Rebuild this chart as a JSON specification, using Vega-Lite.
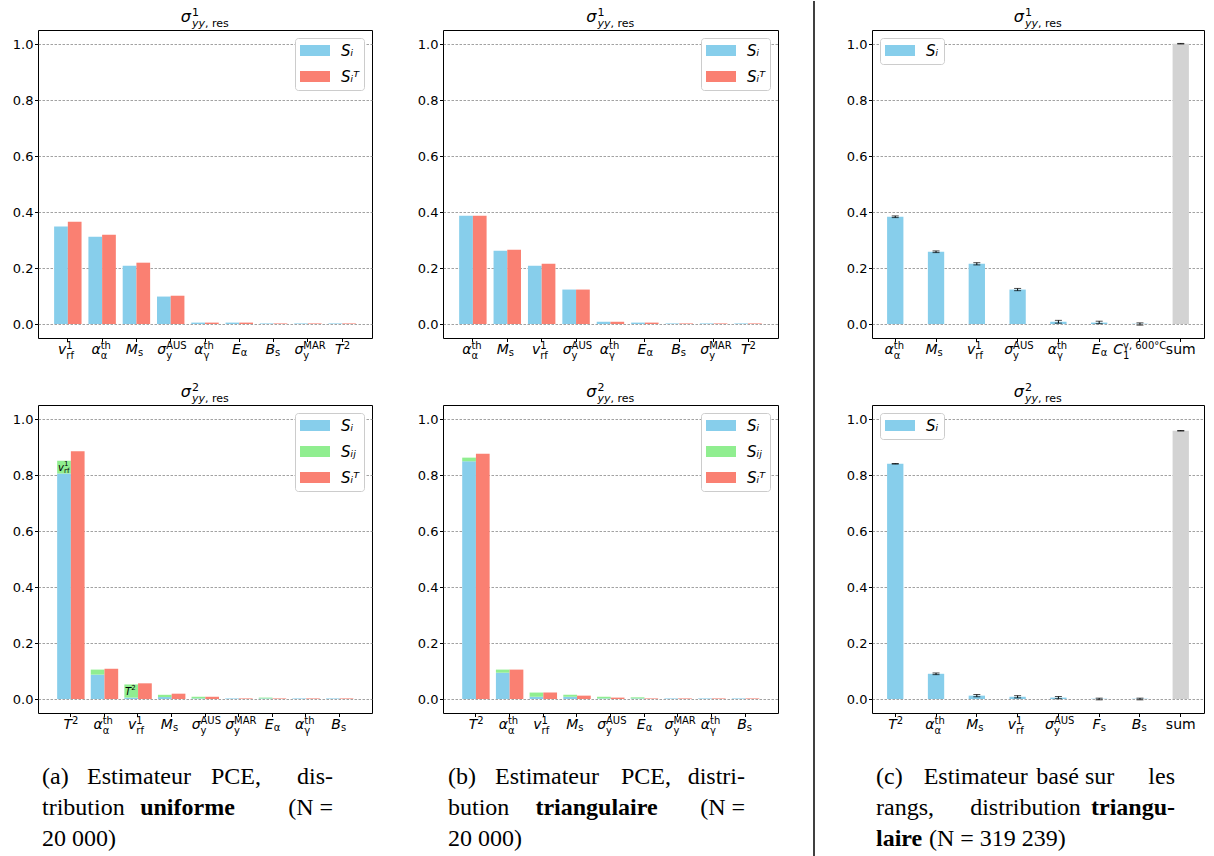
{
  "$schema": "https://vega.github.io/schema/vega-lite/v6.json",
  "background": "white",
  "padding": {"left": 11, "top": 0, "right": 0, "bottom": 0},
  "spacing": 28,
  "resolve": {"scale": {"color": "independent"}, "legend": {"color": "independent"}},
  "datasets": {
    "labels": [
      {"name": "vrf", "base": "v", "sup": "1", "sub": "rf", "plain": ""},
      {"name": "aa", "base": "α", "sup": "th", "sub": "α", "plain": ""},
      {"name": "Ms", "base": "M", "sup": "", "sub": "s", "plain": ""},
      {"name": "sAUS", "base": "σ", "sup": "AUS", "sub": "y", "plain": ""},
      {"name": "ag", "base": "α", "sup": "th", "sub": "γ", "plain": ""},
      {"name": "Ea", "base": "E", "sup": "", "sub": "α", "plain": ""},
      {"name": "Bs", "base": "B", "sup": "", "sub": "s", "plain": ""},
      {"name": "sMAR", "base": "σ", "sup": "MAR", "sub": "y", "plain": ""},
      {"name": "T2", "base": "T", "sup": "2", "sub": "", "plain": ""},
      {"name": "C1", "base": "C", "sup": "γ, 600°C", "sub": "1", "plain": ""},
      {"name": "Fs", "base": "F", "sup": "", "sub": "s", "plain": ""},
      {"name": "sum", "base": "", "sup": "", "sub": "", "plain": "sum"}
    ]
  },
  "hconcat": [
    {
      "vconcat": [
        {
          "width": 334, "height": 308,
          "layer": [
            {
              "data": {"values": [
                {"name": "vrf", "series": "Sᵢ", "v": 0.348}, {"name": "vrf", "series": "Sᵢᵀ", "v": 0.365},
                {"name": "aa", "series": "Sᵢ", "v": 0.312}, {"name": "aa", "series": "Sᵢᵀ", "v": 0.319},
                {"name": "Ms", "series": "Sᵢ", "v": 0.208}, {"name": "Ms", "series": "Sᵢᵀ", "v": 0.219},
                {"name": "sAUS", "series": "Sᵢ", "v": 0.098}, {"name": "sAUS", "series": "Sᵢᵀ", "v": 0.101},
                {"name": "ag", "series": "Sᵢ", "v": 0.005}, {"name": "ag", "series": "Sᵢᵀ", "v": 0.005},
                {"name": "Ea", "series": "Sᵢ", "v": 0.005}, {"name": "Ea", "series": "Sᵢᵀ", "v": 0.005},
                {"name": "Bs", "series": "Sᵢ", "v": 0.002}, {"name": "Bs", "series": "Sᵢᵀ", "v": 0.002},
                {"name": "sMAR", "series": "Sᵢ", "v": 0.002}, {"name": "sMAR", "series": "Sᵢᵀ", "v": 0.002},
                {"name": "T2", "series": "Sᵢ", "v": 0.002}, {"name": "T2", "series": "Sᵢᵀ", "v": 0.002}
              ]},
              "transform": [{"calculate": "datum.series === 'Sᵢᵀ' ? 'b' : 'a'", "as": "grp"}],
              "mark": {"type": "bar"},
              "encoding": {
                "x": {"field": "name", "type": "nominal", "scale": {"domain": ["vrf", "aa", "Ms", "sAUS", "ag", "Ea", "Bs", "sMAR", "T2"], "paddingInner": 0.2, "paddingOuter": 0.47}},
                "xOffset": {"field": "grp", "type": "nominal", "scale": {"domain": ["a", "b"], "paddingInner": 0, "paddingOuter": 0}},
                "y": {"field": "v", "type": "quantitative", "scale": {"domain": [-0.05, 1.05], "nice": false, "zero": false}, "axis": {"values": [0, 0.2, 0.4, 0.6, 0.8, 1], "format": ".1f"}},
                "color": {"field": "series", "type": "nominal", "scale": {"domain": ["Sᵢ", "Sᵢᵀ"], "range": ["#87ceeb", "#fa8072"]}, "legend": {"title": null, "orient": "top-right", "symbolType": "M-1,-0.733H3V0.733H-1Z", "symbolSize": 225}}
              }
            },
            {"data": {"values": [{}]}, "mark": {"type": "text", "text": "σ", "align": "right", "baseline": "alphabetic", "dx": -14, "dy": -8, "fontSize": 16, "fontStyle": "italic", "color": "black"}, "encoding": {"y": {"datum": 1.05}}},
            {"data": {"values": [{}]}, "mark": {"type": "text", "text": "1", "align": "left", "baseline": "alphabetic", "dx": -13, "dy": -14, "fontSize": 11, "color": "black"}, "encoding": {"y": {"datum": 1.05}}},
            {"data": {"values": [{}]}, "mark": {"type": "text", "text": "yy", "align": "left", "baseline": "alphabetic", "dx": -13, "dy": -3, "fontSize": 11, "fontStyle": "italic", "color": "black"}, "encoding": {"y": {"datum": 1.05}}},
            {"data": {"values": [{}]}, "mark": {"type": "text", "text": ", res", "align": "left", "baseline": "alphabetic", "dx": 0, "dy": -3, "fontSize": 11, "color": "black"}, "encoding": {"y": {"datum": 1.05}}},
            {"data": {"name": "labels"}, "transform": [{"filter": {"field": "name", "oneOf": ["vrf", "aa", "Ms", "sAUS", "ag", "Ea", "Bs", "sMAR", "T2"]}}], "mark": {"type": "text", "align": "right", "baseline": "alphabetic", "dy": 16, "fontSize": 14, "fontStyle": "italic", "color": "black", "dx": {"expr": "max(-17,(9-6*max(length(datum.sup),length(datum.sub)))/2)"}}, "encoding": {"x": {"field": "name", "type": "nominal"}, "y": {"datum": -0.05}, "text": {"field": "base"}}},
            {"data": {"name": "labels"}, "transform": [{"filter": {"field": "name", "oneOf": ["vrf", "aa", "Ms", "sAUS", "ag", "Ea", "Bs", "sMAR", "T2"]}}], "mark": {"type": "text", "align": "left", "baseline": "alphabetic", "dy": 11, "fontSize": 10, "color": "black", "dx": {"expr": "max(-17,(9-6*max(length(datum.sup),length(datum.sub)))/2)"}}, "encoding": {"x": {"field": "name", "type": "nominal"}, "y": {"datum": -0.05}, "text": {"field": "sup"}}},
            {"data": {"name": "labels"}, "transform": [{"filter": {"field": "name", "oneOf": ["vrf", "aa", "Ms", "sAUS", "ag", "Ea", "Bs", "sMAR", "T2"]}}], "mark": {"type": "text", "align": "left", "baseline": "alphabetic", "dy": {"expr": "datum.sup ? 21 : 18"}, "fontSize": 10, "color": "black", "dx": {"expr": "max(-17,(9-6*max(length(datum.sup),length(datum.sub)))/2)"}}, "encoding": {"x": {"field": "name", "type": "nominal"}, "y": {"datum": -0.05}, "text": {"field": "sub"}}}
          ]
        },
        {
          "width": 334, "height": 308,
          "layer": [
            {
              "data": {"values": [
                {"name": "T2", "series": "Sᵢ", "v": 0.805}, {"name": "T2", "series": "Sᵢⱼ", "v": 0.046}, {"name": "T2", "series": "Sᵢᵀ", "v": 0.885},
                {"name": "aa", "series": "Sᵢ", "v": 0.087}, {"name": "aa", "series": "Sᵢⱼ", "v": 0.018}, {"name": "aa", "series": "Sᵢᵀ", "v": 0.108},
                {"name": "vrf", "series": "Sᵢ", "v": 0.005}, {"name": "vrf", "series": "Sᵢⱼ", "v": 0.047}, {"name": "vrf", "series": "Sᵢᵀ", "v": 0.056},
                {"name": "Ms", "series": "Sᵢ", "v": 0.007}, {"name": "Ms", "series": "Sᵢⱼ", "v": 0.008}, {"name": "Ms", "series": "Sᵢᵀ", "v": 0.019},
                {"name": "sAUS", "series": "Sᵢ", "v": 0.002}, {"name": "sAUS", "series": "Sᵢⱼ", "v": 0.006}, {"name": "sAUS", "series": "Sᵢᵀ", "v": 0.008},
                {"name": "sMAR", "series": "Sᵢ", "v": 0.002}, {"name": "sMAR", "series": "Sᵢᵀ", "v": 0.002},
                {"name": "Ea", "series": "Sᵢ", "v": 0.002}, {"name": "Ea", "series": "Sᵢⱼ", "v": 0.003}, {"name": "Ea", "series": "Sᵢᵀ", "v": 0.002},
                {"name": "ag", "series": "Sᵢ", "v": 0.002}, {"name": "ag", "series": "Sᵢᵀ", "v": 0.002},
                {"name": "Bs", "series": "Sᵢ", "v": 0.002}, {"name": "Bs", "series": "Sᵢᵀ", "v": 0.002}
              ]},
              "transform": [
                {"calculate": "datum.series === 'Sᵢᵀ' ? 'b' : 'a'", "as": "grp"},
                {"calculate": "datum.series === 'Sᵢ' ? 0 : (datum.series === 'Sᵢⱼ' ? 1 : 2)", "as": "ord"}
              ],
              "mark": {"type": "bar"},
              "encoding": {
                "x": {"field": "name", "type": "nominal", "scale": {"domain": ["T2", "aa", "vrf", "Ms", "sAUS", "sMAR", "Ea", "ag", "Bs"], "paddingInner": 0.2, "paddingOuter": 0.57}},
                "xOffset": {"field": "grp", "type": "nominal", "scale": {"domain": ["a", "b"], "paddingInner": 0, "paddingOuter": 0}},
                "y": {"field": "v", "type": "quantitative", "scale": {"domain": [-0.05, 1.05], "nice": false, "zero": false}, "axis": {"values": [0, 0.2, 0.4, 0.6, 0.8, 1], "format": ".1f"}},
                "order": {"field": "ord", "type": "quantitative"},
                "color": {"field": "series", "type": "nominal", "scale": {"domain": ["Sᵢ", "Sᵢⱼ", "Sᵢᵀ"], "range": ["#87ceeb", "#90ee90", "#fa8072"]}, "legend": {"title": null, "orient": "top-right", "symbolType": "M-1,-0.733H3V0.733H-1Z", "symbolSize": 225}}
              }
            },
            {"data": {"values": [{"name": "T2", "v": 0.805, "ab": "v", "asup": "1", "asub": "rf"}, {"name": "vrf", "v": 0.005, "ab": "T", "asup": "2", "asub": ""}]}, "transform": [{"calculate": "'a'", "as": "grp"}], "mark": {"type": "text", "align": "right", "baseline": "alphabetic", "dy": -3, "fontSize": 10, "fontStyle": "italic", "color": "black"}, "encoding": {"x": {"field": "name", "type": "nominal"}, "xOffset": {"field": "grp", "type": "nominal"}, "y": {"field": "v", "type": "quantitative"}, "text": {"field": "ab"}}},
            {"data": {"values": [{"name": "T2", "v": 0.805, "ab": "v", "asup": "1", "asub": "rf"}, {"name": "vrf", "v": 0.005, "ab": "T", "asup": "2", "asub": ""}]}, "transform": [{"calculate": "'a'", "as": "grp"}], "mark": {"type": "text", "align": "left", "baseline": "alphabetic", "dy": -8, "fontSize": 7, "color": "black"}, "encoding": {"x": {"field": "name", "type": "nominal"}, "xOffset": {"field": "grp", "type": "nominal"}, "y": {"field": "v", "type": "quantitative"}, "text": {"field": "asup"}}},
            {"data": {"values": [{"name": "T2", "v": 0.805, "ab": "v", "asup": "1", "asub": "rf"}, {"name": "vrf", "v": 0.005, "ab": "T", "asup": "2", "asub": ""}]}, "transform": [{"calculate": "'a'", "as": "grp"}], "mark": {"type": "text", "align": "left", "baseline": "alphabetic", "dy": -1, "fontSize": 7, "color": "black"}, "encoding": {"x": {"field": "name", "type": "nominal"}, "xOffset": {"field": "grp", "type": "nominal"}, "y": {"field": "v", "type": "quantitative"}, "text": {"field": "asub"}}},
            {"data": {"values": [{}]}, "mark": {"type": "text", "text": "σ", "align": "right", "baseline": "alphabetic", "dx": -14, "dy": -8, "fontSize": 16, "fontStyle": "italic", "color": "black"}, "encoding": {"y": {"datum": 1.05}}},
            {"data": {"values": [{}]}, "mark": {"type": "text", "text": "2", "align": "left", "baseline": "alphabetic", "dx": -13, "dy": -14, "fontSize": 11, "color": "black"}, "encoding": {"y": {"datum": 1.05}}},
            {"data": {"values": [{}]}, "mark": {"type": "text", "text": "yy", "align": "left", "baseline": "alphabetic", "dx": -13, "dy": -3, "fontSize": 11, "fontStyle": "italic", "color": "black"}, "encoding": {"y": {"datum": 1.05}}},
            {"data": {"values": [{}]}, "mark": {"type": "text", "text": ", res", "align": "left", "baseline": "alphabetic", "dx": 0, "dy": -3, "fontSize": 11, "color": "black"}, "encoding": {"y": {"datum": 1.05}}},
            {"data": {"name": "labels"}, "transform": [{"filter": {"field": "name", "oneOf": ["T2", "aa", "vrf", "Ms", "sAUS", "sMAR", "Ea", "ag", "Bs"]}}], "mark": {"type": "text", "align": "right", "baseline": "alphabetic", "dy": 16, "fontSize": 14, "fontStyle": "italic", "color": "black", "dx": {"expr": "max(-17,(9-6*max(length(datum.sup),length(datum.sub)))/2)"}}, "encoding": {"x": {"field": "name", "type": "nominal"}, "y": {"datum": -0.05}, "text": {"field": "base"}}},
            {"data": {"name": "labels"}, "transform": [{"filter": {"field": "name", "oneOf": ["T2", "aa", "vrf", "Ms", "sAUS", "sMAR", "Ea", "ag", "Bs"]}}], "mark": {"type": "text", "align": "left", "baseline": "alphabetic", "dy": 11, "fontSize": 10, "color": "black", "dx": {"expr": "max(-17,(9-6*max(length(datum.sup),length(datum.sub)))/2)"}}, "encoding": {"x": {"field": "name", "type": "nominal"}, "y": {"datum": -0.05}, "text": {"field": "sup"}}},
            {"data": {"name": "labels"}, "transform": [{"filter": {"field": "name", "oneOf": ["T2", "aa", "vrf", "Ms", "sAUS", "sMAR", "Ea", "ag", "Bs"]}}], "mark": {"type": "text", "align": "left", "baseline": "alphabetic", "dy": {"expr": "datum.sup ? 21 : 18"}, "fontSize": 10, "color": "black", "dx": {"expr": "max(-17,(9-6*max(length(datum.sup),length(datum.sub)))/2)"}}, "encoding": {"x": {"field": "name", "type": "nominal"}, "y": {"datum": -0.05}, "text": {"field": "sub"}}}
          ]
        },
        {
          "width": 350, "height": 70,
          "view": {"stroke": null},
          "data": {"values": [
            {"line": 1, "seg": 1, "text": "(a)"}, {"line": 1, "seg": 2, "text": "Estimateur"}, {"line": 1, "seg": 3, "text": "PCE,"}, {"line": 1, "seg": 4, "text": "dis-"},
            {"line": 2, "seg": 1, "text": "tribution"}, {"line": 2, "seg": 2, "text": "uniforme"}, {"line": 2, "seg": 3, "text": "(N ="},
            {"line": 3, "seg": 1, "text": "20 000)"}
          ]},
          "transform": [
            {"joinaggregate": [{"op": "max", "field": "seg", "as": "nseg"}], "groupby": ["line"]},
            {"joinaggregate": [{"op": "max", "field": "line", "as": "nline"}]},
            {"calculate": "datum.seg === 1 || datum.line === datum.nline ? 0 : (datum.seg === datum.nseg ? 1 : (datum.seg - 1) / (datum.nseg - 1))", "as": "f"}
          ],
          "mark": {"type": "text", "baseline": "alphabetic", "font": "Liberation Serif", "fontSize": 24, "color": "black",
            "dx": {"expr": "datum.line === datum.nline && datum.seg > 1 ? 53 : 0"},
            "align": {"expr": "datum.seg === 1 || datum.line === datum.nline ? 'left' : (datum.seg === datum.nseg ? 'right' : 'center')"},
            "fontWeight": {"expr": "indexof(['uniforme','triangulaire','triangu-','laire'], datum.text) >= 0 ? 'bold' : 'normal'"}},
          "encoding": {
            "x": {"field": "f", "type": "quantitative", "scale": {"domain": [-0.01375, 1.189], "nice": false, "zero": false}, "axis": null},
            "y": {"field": "line", "type": "ordinal", "scale": {"type": "point", "domain": [1, 2, 3], "padding": 0.136}, "axis": null},
            "text": {"field": "text"}
          }
        }
      ],
      "spacing": 67,
      "bounds": "flush",
      "resolve": {"scale": {"color": "independent"}, "legend": {"color": "independent"}}
    },
    {
      "vconcat": [
        {
          "width": 335, "height": 308,
          "layer": [
            {
              "data": {"values": [
                {"name": "aa", "series": "Sᵢ", "v": 0.387}, {"name": "aa", "series": "Sᵢᵀ", "v": 0.387},
                {"name": "Ms", "series": "Sᵢ", "v": 0.262}, {"name": "Ms", "series": "Sᵢᵀ", "v": 0.265},
                {"name": "vrf", "series": "Sᵢ", "v": 0.208}, {"name": "vrf", "series": "Sᵢᵀ", "v": 0.215},
                {"name": "sAUS", "series": "Sᵢ", "v": 0.123}, {"name": "sAUS", "series": "Sᵢᵀ", "v": 0.123},
                {"name": "ag", "series": "Sᵢ", "v": 0.008}, {"name": "ag", "series": "Sᵢᵀ", "v": 0.008},
                {"name": "Ea", "series": "Sᵢ", "v": 0.005}, {"name": "Ea", "series": "Sᵢᵀ", "v": 0.005},
                {"name": "Bs", "series": "Sᵢ", "v": 0.002}, {"name": "Bs", "series": "Sᵢᵀ", "v": 0.002},
                {"name": "sMAR", "series": "Sᵢ", "v": 0.002}, {"name": "sMAR", "series": "Sᵢᵀ", "v": 0.002},
                {"name": "T2", "series": "Sᵢ", "v": 0.002}, {"name": "T2", "series": "Sᵢᵀ", "v": 0.002}
              ]},
              "transform": [{"calculate": "datum.series === 'Sᵢᵀ' ? 'b' : 'a'", "as": "grp"}],
              "mark": {"type": "bar"},
              "encoding": {
                "x": {"field": "name", "type": "nominal", "scale": {"domain": ["aa", "Ms", "vrf", "sAUS", "ag", "Ea", "Bs", "sMAR", "T2"], "paddingInner": 0.2, "paddingOuter": 0.47}},
                "xOffset": {"field": "grp", "type": "nominal", "scale": {"domain": ["a", "b"], "paddingInner": 0, "paddingOuter": 0}},
                "y": {"field": "v", "type": "quantitative", "scale": {"domain": [-0.05, 1.05], "nice": false, "zero": false}, "axis": {"values": [0, 0.2, 0.4, 0.6, 0.8, 1], "format": ".1f"}},
                "color": {"field": "series", "type": "nominal", "scale": {"domain": ["Sᵢ", "Sᵢᵀ"], "range": ["#87ceeb", "#fa8072"]}, "legend": {"title": null, "orient": "top-right", "symbolType": "M-1,-0.733H3V0.733H-1Z", "symbolSize": 225}}
              }
            },
            {"data": {"values": [{}]}, "mark": {"type": "text", "text": "σ", "align": "right", "baseline": "alphabetic", "dx": -14, "dy": -8, "fontSize": 16, "fontStyle": "italic", "color": "black"}, "encoding": {"y": {"datum": 1.05}}},
            {"data": {"values": [{}]}, "mark": {"type": "text", "text": "1", "align": "left", "baseline": "alphabetic", "dx": -13, "dy": -14, "fontSize": 11, "color": "black"}, "encoding": {"y": {"datum": 1.05}}},
            {"data": {"values": [{}]}, "mark": {"type": "text", "text": "yy", "align": "left", "baseline": "alphabetic", "dx": -13, "dy": -3, "fontSize": 11, "fontStyle": "italic", "color": "black"}, "encoding": {"y": {"datum": 1.05}}},
            {"data": {"values": [{}]}, "mark": {"type": "text", "text": ", res", "align": "left", "baseline": "alphabetic", "dx": 0, "dy": -3, "fontSize": 11, "color": "black"}, "encoding": {"y": {"datum": 1.05}}},
            {"data": {"name": "labels"}, "transform": [{"filter": {"field": "name", "oneOf": ["aa", "Ms", "vrf", "sAUS", "ag", "Ea", "Bs", "sMAR", "T2"]}}], "mark": {"type": "text", "align": "right", "baseline": "alphabetic", "dy": 16, "fontSize": 14, "fontStyle": "italic", "color": "black", "dx": {"expr": "max(-17,(9-6*max(length(datum.sup),length(datum.sub)))/2)"}}, "encoding": {"x": {"field": "name", "type": "nominal"}, "y": {"datum": -0.05}, "text": {"field": "base"}}},
            {"data": {"name": "labels"}, "transform": [{"filter": {"field": "name", "oneOf": ["aa", "Ms", "vrf", "sAUS", "ag", "Ea", "Bs", "sMAR", "T2"]}}], "mark": {"type": "text", "align": "left", "baseline": "alphabetic", "dy": 11, "fontSize": 10, "color": "black", "dx": {"expr": "max(-17,(9-6*max(length(datum.sup),length(datum.sub)))/2)"}}, "encoding": {"x": {"field": "name", "type": "nominal"}, "y": {"datum": -0.05}, "text": {"field": "sup"}}},
            {"data": {"name": "labels"}, "transform": [{"filter": {"field": "name", "oneOf": ["aa", "Ms", "vrf", "sAUS", "ag", "Ea", "Bs", "sMAR", "T2"]}}], "mark": {"type": "text", "align": "left", "baseline": "alphabetic", "dy": {"expr": "datum.sup ? 21 : 18"}, "fontSize": 10, "color": "black", "dx": {"expr": "max(-17,(9-6*max(length(datum.sup),length(datum.sub)))/2)"}}, "encoding": {"x": {"field": "name", "type": "nominal"}, "y": {"datum": -0.05}, "text": {"field": "sub"}}}
          ]
        },
        {
          "width": 335, "height": 308,
          "layer": [
            {
              "data": {"values": [
                {"name": "T2", "series": "Sᵢ", "v": 0.849}, {"name": "T2", "series": "Sᵢⱼ", "v": 0.013}, {"name": "T2", "series": "Sᵢᵀ", "v": 0.876},
                {"name": "aa", "series": "Sᵢ", "v": 0.094}, {"name": "aa", "series": "Sᵢⱼ", "v": 0.011}, {"name": "aa", "series": "Sᵢᵀ", "v": 0.105},
                {"name": "vrf", "series": "Sᵢ", "v": 0.008}, {"name": "vrf", "series": "Sᵢⱼ", "v": 0.015}, {"name": "vrf", "series": "Sᵢᵀ", "v": 0.023},
                {"name": "Ms", "series": "Sᵢ", "v": 0.008}, {"name": "Ms", "series": "Sᵢⱼ", "v": 0.007}, {"name": "Ms", "series": "Sᵢᵀ", "v": 0.012},
                {"name": "sAUS", "series": "Sᵢ", "v": 0.002}, {"name": "sAUS", "series": "Sᵢⱼ", "v": 0.006}, {"name": "sAUS", "series": "Sᵢᵀ", "v": 0.005},
                {"name": "Ea", "series": "Sᵢ", "v": 0.002}, {"name": "Ea", "series": "Sᵢⱼ", "v": 0.004}, {"name": "Ea", "series": "Sᵢᵀ", "v": 0.002},
                {"name": "sMAR", "series": "Sᵢ", "v": 0.002}, {"name": "sMAR", "series": "Sᵢᵀ", "v": 0.002},
                {"name": "ag", "series": "Sᵢ", "v": 0.002}, {"name": "ag", "series": "Sᵢᵀ", "v": 0.002},
                {"name": "Bs", "series": "Sᵢ", "v": 0.002}, {"name": "Bs", "series": "Sᵢᵀ", "v": 0.002}
              ]},
              "transform": [
                {"calculate": "datum.series === 'Sᵢᵀ' ? 'b' : 'a'", "as": "grp"},
                {"calculate": "datum.series === 'Sᵢ' ? 0 : (datum.series === 'Sᵢⱼ' ? 1 : 2)", "as": "ord"}
              ],
              "mark": {"type": "bar"},
              "encoding": {
                "x": {"field": "name", "type": "nominal", "scale": {"domain": ["T2", "aa", "vrf", "Ms", "sAUS", "Ea", "sMAR", "ag", "Bs"], "paddingInner": 0.2, "paddingOuter": 0.57}},
                "xOffset": {"field": "grp", "type": "nominal", "scale": {"domain": ["a", "b"], "paddingInner": 0, "paddingOuter": 0}},
                "y": {"field": "v", "type": "quantitative", "scale": {"domain": [-0.05, 1.05], "nice": false, "zero": false}, "axis": {"values": [0, 0.2, 0.4, 0.6, 0.8, 1], "format": ".1f"}},
                "order": {"field": "ord", "type": "quantitative"},
                "color": {"field": "series", "type": "nominal", "scale": {"domain": ["Sᵢ", "Sᵢⱼ", "Sᵢᵀ"], "range": ["#87ceeb", "#90ee90", "#fa8072"]}, "legend": {"title": null, "orient": "top-right", "symbolType": "M-1,-0.733H3V0.733H-1Z", "symbolSize": 225}}
              }
            },
            {"data": {"values": [{}]}, "mark": {"type": "text", "text": "σ", "align": "right", "baseline": "alphabetic", "dx": -14, "dy": -8, "fontSize": 16, "fontStyle": "italic", "color": "black"}, "encoding": {"y": {"datum": 1.05}}},
            {"data": {"values": [{}]}, "mark": {"type": "text", "text": "2", "align": "left", "baseline": "alphabetic", "dx": -13, "dy": -14, "fontSize": 11, "color": "black"}, "encoding": {"y": {"datum": 1.05}}},
            {"data": {"values": [{}]}, "mark": {"type": "text", "text": "yy", "align": "left", "baseline": "alphabetic", "dx": -13, "dy": -3, "fontSize": 11, "fontStyle": "italic", "color": "black"}, "encoding": {"y": {"datum": 1.05}}},
            {"data": {"values": [{}]}, "mark": {"type": "text", "text": ", res", "align": "left", "baseline": "alphabetic", "dx": 0, "dy": -3, "fontSize": 11, "color": "black"}, "encoding": {"y": {"datum": 1.05}}},
            {"data": {"name": "labels"}, "transform": [{"filter": {"field": "name", "oneOf": ["T2", "aa", "vrf", "Ms", "sAUS", "Ea", "sMAR", "ag", "Bs"]}}], "mark": {"type": "text", "align": "right", "baseline": "alphabetic", "dy": 16, "fontSize": 14, "fontStyle": "italic", "color": "black", "dx": {"expr": "max(-17,(9-6*max(length(datum.sup),length(datum.sub)))/2)"}}, "encoding": {"x": {"field": "name", "type": "nominal"}, "y": {"datum": -0.05}, "text": {"field": "base"}}},
            {"data": {"name": "labels"}, "transform": [{"filter": {"field": "name", "oneOf": ["T2", "aa", "vrf", "Ms", "sAUS", "Ea", "sMAR", "ag", "Bs"]}}], "mark": {"type": "text", "align": "left", "baseline": "alphabetic", "dy": 11, "fontSize": 10, "color": "black", "dx": {"expr": "max(-17,(9-6*max(length(datum.sup),length(datum.sub)))/2)"}}, "encoding": {"x": {"field": "name", "type": "nominal"}, "y": {"datum": -0.05}, "text": {"field": "sup"}}},
            {"data": {"name": "labels"}, "transform": [{"filter": {"field": "name", "oneOf": ["T2", "aa", "vrf", "Ms", "sAUS", "Ea", "sMAR", "ag", "Bs"]}}], "mark": {"type": "text", "align": "left", "baseline": "alphabetic", "dy": {"expr": "datum.sup ? 21 : 18"}, "fontSize": 10, "color": "black", "dx": {"expr": "max(-17,(9-6*max(length(datum.sup),length(datum.sub)))/2)"}}, "encoding": {"x": {"field": "name", "type": "nominal"}, "y": {"datum": -0.05}, "text": {"field": "sub"}}}
          ]
        },
        {
          "width": 342, "height": 70,
          "view": {"stroke": null},
          "data": {"values": [
            {"line": 1, "seg": 1, "text": "(b)"}, {"line": 1, "seg": 2, "text": "Estimateur"}, {"line": 1, "seg": 3, "text": "PCE,"}, {"line": 1, "seg": 4, "text": "distri-"},
            {"line": 2, "seg": 1, "text": "bution"}, {"line": 2, "seg": 2, "text": "triangulaire"}, {"line": 2, "seg": 3, "text": "(N ="},
            {"line": 3, "seg": 1, "text": "20 000)"}
          ]},
          "transform": [
            {"joinaggregate": [{"op": "max", "field": "seg", "as": "nseg"}], "groupby": ["line"]},
            {"joinaggregate": [{"op": "max", "field": "line", "as": "nline"}]},
            {"calculate": "datum.seg === 1 || datum.line === datum.nline ? 0 : (datum.seg === datum.nseg ? 1 : (datum.seg - 1) / (datum.nseg - 1))", "as": "f"}
          ],
          "mark": {"type": "text", "baseline": "alphabetic", "font": "Liberation Serif", "fontSize": 24, "color": "black",
            "dx": {"expr": "datum.line === datum.nline && datum.seg > 1 ? 53 : 0"},
            "align": {"expr": "datum.seg === 1 || datum.line === datum.nline ? 'left' : (datum.seg === datum.nseg ? 'right' : 'center')"},
            "fontWeight": {"expr": "indexof(['uniforme','triangulaire','triangu-','laire'], datum.text) >= 0 ? 'bold' : 'normal'"}},
          "encoding": {
            "x": {"field": "f", "type": "quantitative", "scale": {"domain": [-0.01683, 1.1347], "nice": false, "zero": false}, "axis": null},
            "y": {"field": "line", "type": "ordinal", "scale": {"type": "point", "domain": [1, 2, 3], "padding": 0.136}, "axis": null},
            "text": {"field": "text"}
          }
        }
      ],
      "spacing": 67,
      "bounds": "flush",
      "resolve": {"scale": {"color": "independent"}, "legend": {"color": "independent"}}
    },
    {
      "width": 3, "height": 827,
      "view": {"stroke": null},
      "data": {"values": [{"at": 0}]},
      "mark": {"type": "rule", "color": "black", "strokeWidth": 1.5},
      "encoding": {
        "x": {"field": "at", "type": "quantitative", "scale": {"domain": [0, 1]}, "axis": null},
        "y": {"datum": 0, "type": "quantitative", "scale": {"domain": [0, 1], "nice": false}, "axis": null},
        "y2": {"datum": 1.035}
      }
    },
    {
      "vconcat": [
        {
          "width": 332, "height": 308,
          "data": {"values": [
            {"name": "aa", "series": "Sᵢ", "v": 0.383, "lo": 0.380, "hi": 0.386},
            {"name": "Ms", "series": "Sᵢ", "v": 0.258, "lo": 0.255, "hi": 0.261},
            {"name": "vrf", "series": "Sᵢ", "v": 0.215, "lo": 0.211, "hi": 0.219},
            {"name": "sAUS", "series": "Sᵢ", "v": 0.123, "lo": 0.119, "hi": 0.127},
            {"name": "ag", "series": "Sᵢ", "v": 0.008, "lo": 0.003, "hi": 0.013},
            {"name": "Ea", "series": "Sᵢ", "v": 0.005, "lo": 0.001, "hi": 0.010},
            {"name": "C1", "series": "Sᵢ", "v": 0.001, "lo": -0.004, "hi": 0.004},
            {"name": "sum", "series": "sum", "v": 1.001, "lo": 1.000, "hi": 1.002}
          ]},
          "layer": [
            {
              "transform": [{"filter": "datum.series === 'Sᵢ'"}],
              "mark": {"type": "bar"},
              "encoding": {
                "x": {"field": "name", "type": "nominal", "scale": {"domain": ["aa", "Ms", "vrf", "sAUS", "ag", "Ea", "C1", "sum"], "paddingInner": 0.6, "paddingOuter": 0.37}},
                "y": {"field": "v", "type": "quantitative", "scale": {"domain": [-0.05, 1.05], "nice": false, "zero": false}, "axis": {"values": [0, 0.2, 0.4, 0.6, 0.8, 1], "format": ".1f"}},
                "color": {"field": "series", "type": "nominal", "scale": {"domain": ["Sᵢ"], "range": ["#87ceeb"]}, "legend": {"title": null, "orient": "top-left", "symbolType": "M-1,-0.733H3V0.733H-1Z", "symbolSize": 225}}
              }
            },
            {
              "transform": [{"filter": "datum.series === 'sum'"}],
              "mark": {"type": "bar", "color": "#d3d3d3"},
              "encoding": {"x": {"field": "name", "type": "nominal"}, "y": {"field": "v", "type": "quantitative"}}
            },
            {"mark": {"type": "rule", "color": "black", "strokeWidth": 1}, "encoding": {"x": {"field": "name", "type": "nominal"}, "y": {"field": "lo", "type": "quantitative"}, "y2": {"field": "hi"}}},
            {"mark": {"type": "tick", "color": "black", "size": 7, "thickness": 1}, "encoding": {"x": {"field": "name", "type": "nominal"}, "y": {"field": "lo", "type": "quantitative"}}},
            {"mark": {"type": "tick", "color": "black", "size": 7, "thickness": 1}, "encoding": {"x": {"field": "name", "type": "nominal"}, "y": {"field": "hi", "type": "quantitative"}}},
            {"data": {"values": [{}]}, "mark": {"type": "text", "text": "σ", "align": "right", "baseline": "alphabetic", "dx": -14, "dy": -8, "fontSize": 16, "fontStyle": "italic", "color": "black"}, "encoding": {"y": {"datum": 1.05}}},
            {"data": {"values": [{}]}, "mark": {"type": "text", "text": "1", "align": "left", "baseline": "alphabetic", "dx": -13, "dy": -14, "fontSize": 11, "color": "black"}, "encoding": {"y": {"datum": 1.05}}},
            {"data": {"values": [{}]}, "mark": {"type": "text", "text": "yy", "align": "left", "baseline": "alphabetic", "dx": -13, "dy": -3, "fontSize": 11, "fontStyle": "italic", "color": "black"}, "encoding": {"y": {"datum": 1.05}}},
            {"data": {"values": [{}]}, "mark": {"type": "text", "text": ", res", "align": "left", "baseline": "alphabetic", "dx": 0, "dy": -3, "fontSize": 11, "color": "black"}, "encoding": {"y": {"datum": 1.05}}},
            {"data": {"name": "labels"}, "transform": [{"filter": {"field": "name", "oneOf": ["aa", "Ms", "vrf", "sAUS", "ag", "Ea", "C1", "sum"]}}], "mark": {"type": "text", "align": "right", "baseline": "alphabetic", "dy": 16, "fontSize": 14, "fontStyle": "italic", "color": "black", "dx": {"expr": "max(-17,(9-6*max(length(datum.sup),length(datum.sub)))/2)"}}, "encoding": {"x": {"field": "name", "type": "nominal"}, "y": {"datum": -0.05}, "text": {"field": "base"}}},
            {"data": {"name": "labels"}, "transform": [{"filter": {"field": "name", "oneOf": ["aa", "Ms", "vrf", "sAUS", "ag", "Ea", "C1", "sum"]}}], "mark": {"type": "text", "align": "left", "baseline": "alphabetic", "dy": 11, "fontSize": 10, "color": "black", "dx": {"expr": "max(-17,(9-6*max(length(datum.sup),length(datum.sub)))/2)"}}, "encoding": {"x": {"field": "name", "type": "nominal"}, "y": {"datum": -0.05}, "text": {"field": "sup"}}},
            {"data": {"name": "labels"}, "transform": [{"filter": {"field": "name", "oneOf": ["aa", "Ms", "vrf", "sAUS", "ag", "Ea", "C1", "sum"]}}], "mark": {"type": "text", "align": "left", "baseline": "alphabetic", "dy": {"expr": "datum.sup ? 21 : 18"}, "fontSize": 10, "color": "black", "dx": {"expr": "max(-17,(9-6*max(length(datum.sup),length(datum.sub)))/2)"}}, "encoding": {"x": {"field": "name", "type": "nominal"}, "y": {"datum": -0.05}, "text": {"field": "sub"}}},
            {"data": {"name": "labels"}, "transform": [{"filter": {"field": "name", "oneOf": ["aa", "Ms", "vrf", "sAUS", "ag", "Ea", "C1", "sum"]}}], "mark": {"type": "text", "align": "center", "baseline": "alphabetic", "dy": 16, "fontSize": 14, "color": "black"}, "encoding": {"x": {"field": "name", "type": "nominal"}, "y": {"datum": -0.05}, "text": {"field": "plain"}}}
          ]
        },
        {
          "width": 332, "height": 308,
          "data": {"values": [
            {"name": "T2", "series": "Sᵢ", "v": 0.840, "lo": 0.839, "hi": 0.841},
            {"name": "aa", "series": "Sᵢ", "v": 0.090, "lo": 0.087, "hi": 0.093},
            {"name": "Ms", "series": "Sᵢ", "v": 0.012, "lo": 0.008, "hi": 0.016},
            {"name": "vrf", "series": "Sᵢ", "v": 0.008, "lo": 0.004, "hi": 0.012},
            {"name": "sAUS", "series": "Sᵢ", "v": 0.005, "lo": 0.001, "hi": 0.009},
            {"name": "Fs", "series": "Sᵢ", "v": 0.001, "lo": -0.003, "hi": 0.003},
            {"name": "Bs", "series": "Sᵢ", "v": 0.001, "lo": -0.003, "hi": 0.003},
            {"name": "sum", "series": "sum", "v": 0.958, "lo": 0.957, "hi": 0.959}
          ]},
          "layer": [
            {
              "transform": [{"filter": "datum.series === 'Sᵢ'"}],
              "mark": {"type": "bar"},
              "encoding": {
                "x": {"field": "name", "type": "nominal", "scale": {"domain": ["T2", "aa", "Ms", "vrf", "sAUS", "Fs", "Bs", "sum"], "paddingInner": 0.6, "paddingOuter": 0.37}},
                "y": {"field": "v", "type": "quantitative", "scale": {"domain": [-0.05, 1.05], "nice": false, "zero": false}, "axis": {"values": [0, 0.2, 0.4, 0.6, 0.8, 1], "format": ".1f"}},
                "color": {"field": "series", "type": "nominal", "scale": {"domain": ["Sᵢ"], "range": ["#87ceeb"]}, "legend": {"title": null, "orient": "top-left", "symbolType": "M-1,-0.733H3V0.733H-1Z", "symbolSize": 225}}
              }
            },
            {
              "transform": [{"filter": "datum.series === 'sum'"}],
              "mark": {"type": "bar", "color": "#d3d3d3"},
              "encoding": {"x": {"field": "name", "type": "nominal"}, "y": {"field": "v", "type": "quantitative"}}
            },
            {"mark": {"type": "rule", "color": "black", "strokeWidth": 1}, "encoding": {"x": {"field": "name", "type": "nominal"}, "y": {"field": "lo", "type": "quantitative"}, "y2": {"field": "hi"}}},
            {"mark": {"type": "tick", "color": "black", "size": 7, "thickness": 1}, "encoding": {"x": {"field": "name", "type": "nominal"}, "y": {"field": "lo", "type": "quantitative"}}},
            {"mark": {"type": "tick", "color": "black", "size": 7, "thickness": 1}, "encoding": {"x": {"field": "name", "type": "nominal"}, "y": {"field": "hi", "type": "quantitative"}}},
            {"data": {"values": [{}]}, "mark": {"type": "text", "text": "σ", "align": "right", "baseline": "alphabetic", "dx": -14, "dy": -8, "fontSize": 16, "fontStyle": "italic", "color": "black"}, "encoding": {"y": {"datum": 1.05}}},
            {"data": {"values": [{}]}, "mark": {"type": "text", "text": "2", "align": "left", "baseline": "alphabetic", "dx": -13, "dy": -14, "fontSize": 11, "color": "black"}, "encoding": {"y": {"datum": 1.05}}},
            {"data": {"values": [{}]}, "mark": {"type": "text", "text": "yy", "align": "left", "baseline": "alphabetic", "dx": -13, "dy": -3, "fontSize": 11, "fontStyle": "italic", "color": "black"}, "encoding": {"y": {"datum": 1.05}}},
            {"data": {"values": [{}]}, "mark": {"type": "text", "text": ", res", "align": "left", "baseline": "alphabetic", "dx": 0, "dy": -3, "fontSize": 11, "color": "black"}, "encoding": {"y": {"datum": 1.05}}},
            {"data": {"name": "labels"}, "transform": [{"filter": {"field": "name", "oneOf": ["T2", "aa", "Ms", "vrf", "sAUS", "Fs", "Bs", "sum"]}}], "mark": {"type": "text", "align": "right", "baseline": "alphabetic", "dy": 16, "fontSize": 14, "fontStyle": "italic", "color": "black", "dx": {"expr": "max(-17,(9-6*max(length(datum.sup),length(datum.sub)))/2)"}}, "encoding": {"x": {"field": "name", "type": "nominal"}, "y": {"datum": -0.05}, "text": {"field": "base"}}},
            {"data": {"name": "labels"}, "transform": [{"filter": {"field": "name", "oneOf": ["T2", "aa", "Ms", "vrf", "sAUS", "Fs", "Bs", "sum"]}}], "mark": {"type": "text", "align": "left", "baseline": "alphabetic", "dy": 11, "fontSize": 10, "color": "black", "dx": {"expr": "max(-17,(9-6*max(length(datum.sup),length(datum.sub)))/2)"}}, "encoding": {"x": {"field": "name", "type": "nominal"}, "y": {"datum": -0.05}, "text": {"field": "sup"}}},
            {"data": {"name": "labels"}, "transform": [{"filter": {"field": "name", "oneOf": ["T2", "aa", "Ms", "vrf", "sAUS", "Fs", "Bs", "sum"]}}], "mark": {"type": "text", "align": "left", "baseline": "alphabetic", "dy": {"expr": "datum.sup ? 21 : 18"}, "fontSize": 10, "color": "black", "dx": {"expr": "max(-17,(9-6*max(length(datum.sup),length(datum.sub)))/2)"}}, "encoding": {"x": {"field": "name", "type": "nominal"}, "y": {"datum": -0.05}, "text": {"field": "sub"}}},
            {"data": {"name": "labels"}, "transform": [{"filter": {"field": "name", "oneOf": ["T2", "aa", "Ms", "vrf", "sAUS", "Fs", "Bs", "sum"]}}], "mark": {"type": "text", "align": "center", "baseline": "alphabetic", "dy": 16, "fontSize": 14, "color": "black"}, "encoding": {"x": {"field": "name", "type": "nominal"}, "y": {"datum": -0.05}, "text": {"field": "plain"}}}
          ]
        },
        {
          "width": 307, "height": 70,
          "view": {"stroke": null},
          "data": {"values": [
            {"line": 1, "seg": 1, "text": "(c)"}, {"line": 1, "seg": 2, "text": "Estimateur"}, {"line": 1, "seg": 3, "text": "basé sur"}, {"line": 1, "seg": 4, "text": "les"},
            {"line": 2, "seg": 1, "text": "rangs,"}, {"line": 2, "seg": 2, "text": "distribution"}, {"line": 2, "seg": 3, "text": "triangu-"},
            {"line": 3, "seg": 1, "text": "laire"}, {"line": 3, "seg": 2, "text": "(N = 319 239)"}
          ]},
          "transform": [
            {"joinaggregate": [{"op": "max", "field": "seg", "as": "nseg"}], "groupby": ["line"]},
            {"joinaggregate": [{"op": "max", "field": "line", "as": "nline"}]},
            {"calculate": "datum.seg === 1 || datum.line === datum.nline ? 0 : (datum.seg === datum.nseg ? 1 : (datum.seg - 1) / (datum.nseg - 1))", "as": "f"}
          ],
          "mark": {"type": "text", "baseline": "alphabetic", "font": "Liberation Serif", "fontSize": 24, "color": "black",
            "dx": {"expr": "datum.line === datum.nline && datum.seg > 1 ? 53 : 0"},
            "align": {"expr": "datum.seg === 1 || datum.line === datum.nline ? 'left' : (datum.seg === datum.nseg ? 'right' : 'center')"},
            "fontWeight": {"expr": "indexof(['uniforme','triangulaire','triangu-','laire'], datum.text) >= 0 ? 'bold' : 'normal'"}},
          "encoding": {
            "x": {"field": "f", "type": "quantitative", "scale": {"domain": [-0.01338, 1.01338], "nice": false, "zero": false}, "axis": null},
            "y": {"field": "line", "type": "ordinal", "scale": {"type": "point", "domain": [1, 2, 3], "padding": 0.136}, "axis": null},
            "text": {"field": "text"}
          }
        }
      ],
      "spacing": 67,
      "bounds": "flush",
      "resolve": {"scale": {"color": "independent"}, "legend": {"color": "independent"}}
    }
  ],
  "config": {
    "font": "DejaVu Sans",
    "view": {"stroke": "black", "strokeWidth": 1},
    "axisX": {"labels": false, "title": null, "domain": false, "ticks": true, "tickSize": 3.5, "tickColor": "black", "tickWidth": 1, "grid": false},
    "axisY": {"title": null, "domain": false, "ticks": true, "tickSize": 3.5, "tickColor": "black", "tickWidth": 1, "labelPadding": 1.5, "labelFontSize": 13, "labelColor": "black", "labelFont": "DejaVu Sans", "grid": true, "gridColor": "#8a8a8a", "gridDash": [2.5, 1.5], "gridWidth": 0.8},
    "legend": {"offset": 8, "padding": 5, "fillColor": "white", "strokeColor": "#cccccc", "cornerRadius": 3, "symbolStrokeWidth": 0, "symbolOpacity": 1, "labelFont": "DejaVu Sans", "labelFontStyle": "italic", "labelFontSize": 15, "labelColor": "black", "labelOffset": 26, "rowPadding": 10}
  }
}
